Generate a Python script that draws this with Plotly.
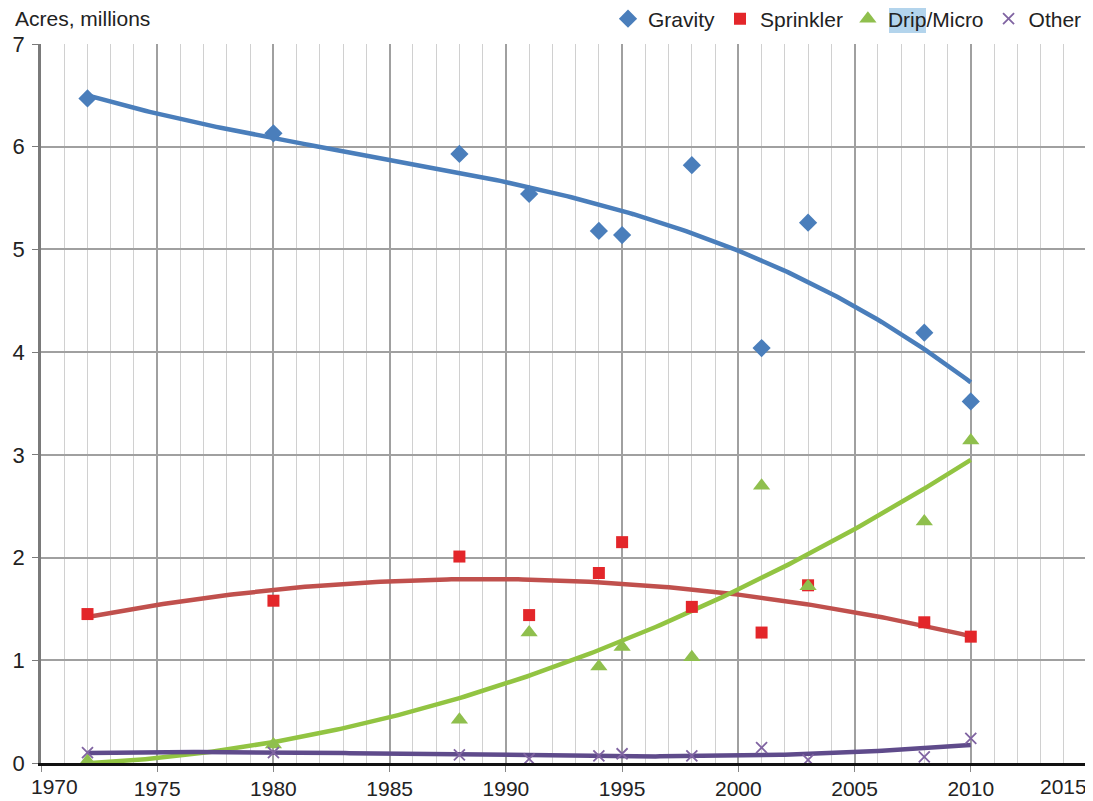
import numpy as np
import plotly.graph_objects as go

years = [1972, 1980, 1988, 1991, 1994, 1995, 1998, 2001, 2003, 2008, 2010]
gravity = [6.47, 6.13, 5.93, 5.54, 5.18, 5.14, 5.82, 4.04, 5.26, 4.19, 3.52]
sprinkler = [1.45, 1.58, 2.01, 1.44, 1.85, 2.15, 1.52, 1.27, 1.73, 1.37, 1.23]
drip = [0.02, 0.18, 0.42, 1.27, 0.94, 1.13, 1.03, 2.70, 1.72, 2.35, 3.14]
other = [0.10, 0.10, 0.08, 0.04, 0.07, 0.09, 0.07, 0.15, 0.03, 0.06, 0.24]

x_ticks = [1970, 1975, 1980, 1985, 1990, 1995, 2000, 2005, 2010, 2015]
x_labels = [str(v) for v in x_ticks]

# name, values, marker colour, trend colour, symbol, size, trend order
series = [
    ("Gravity", gravity, "#4a7ebb", "#4a7ebb", "diamond", 14, 3),
    ("Sprinkler", sprinkler, "#e3262a", "#c0504d", "square", 12, 2),
    ("Drip/Micro", drip, "#8fbf4d", "#92c442", "triangle-up", 15, 2),
    ("Other", other, "#8064a2", "#5f4b8b", "x-thin-open", 11, 3),
]

W, H = 1085, 793
ML, MR, MT, MB = 33, 6, 36, 38
PW, PH = W - ML - MR, H - MT - MB

fig = go.Figure()
xs = np.linspace(min(years), max(years), 200)
for name, vals, mc, lc, sym, sz, order in series:
    coef = np.polyfit(years, vals, order)
    fig.add_trace(go.Scatter(x=xs, y=np.polyval(coef, xs), mode="lines",
                             line=dict(color=lc, width=4.5), showlegend=False,
                             hoverinfo="skip"))
for name, vals, mc, lc, sym, sz, order in series:
    mk = dict(symbol=sym, size=sz, color=mc)
    if sym == "x-thin-open":
        mk["line"] = dict(color=mc, width=1.8)
    fig.add_trace(go.Scatter(x=years, y=vals, mode="markers", name=name,
                             marker=mk))

# inner tick labels; the two end labels are placed inside the plot like the original
ticktext = [""] + x_labels[1:-1] + [""]

def px2x(px):
    return (px - ML) / PW

def py2y(py):
    return (H - MB - py) / PH

fig.update_layout(
    width=W, height=H,
    margin=dict(l=ML, r=MR, t=MT, b=MB, autoexpand=False),
    paper_bgcolor="white", plot_bgcolor="white",
    font=dict(family="Liberation Sans, Arial, sans-serif", size=21, color="#222"),
    legend=dict(orientation="h", x=1.0, xanchor="right", y=py2y(11),
                yanchor="middle", font=dict(size=21),
                itemwidth=30, bgcolor="rgba(0,0,0,0)"),
    xaxis=dict(range=[1970, 2015], tickvals=x_ticks, ticktext=ticktext,
               showgrid=True, gridcolor="#a0a0a0", gridwidth=1.5,
               minor=dict(dtick=1, tick0=1970, showgrid=True,
                          gridcolor="#d0d0d0", gridwidth=1),
               showline=True, linecolor="#111", linewidth=2.5, ticks="outside",
               ticklen=6, tickcolor="#888", zeroline=False, fixedrange=True,
               tickfont=dict(size=21), ticklabelstandoff=-1),
    yaxis=dict(range=[0, 7], dtick=1, showgrid=True, gridcolor="#a0a0a0",
               gridwidth=1.5, showline=True, linecolor="#7a7a7a", linewidth=2.5,
               ticks="outside", ticklen=6, tickcolor="#7a7a7a", zeroline=False,
               fixedrange=True, tickfont=dict(size=22), ticklabelstandoff=3),
    annotations=[
        dict(text="Acres, millions", xref="paper", yref="paper",
             x=px2x(5), y=py2y(10), xanchor="left", yanchor="middle",
             showarrow=False, font=dict(size=21)),
        dict(text=x_labels[0], xref="paper", yref="paper", x=px2x(21),
             y=0, yanchor="top", xanchor="left", yshift=-10, showarrow=False,
             font=dict(size=21)),
        dict(text=x_labels[-1], xref="paper", yref="paper", x=px2x(1081),
             y=0, yanchor="top", xanchor="right", yshift=-10, showarrow=False,
             font=dict(size=21)),
    ],
    shapes=[dict(type="rect", xref="paper", yref="paper",
                 x0=px2x(881), x1=px2x(918), y0=py2y(25), y1=py2y(0),
                 fillcolor="#b3d4ec", line=dict(width=0), layer="below")],
)
fig.write_html("out.html")
